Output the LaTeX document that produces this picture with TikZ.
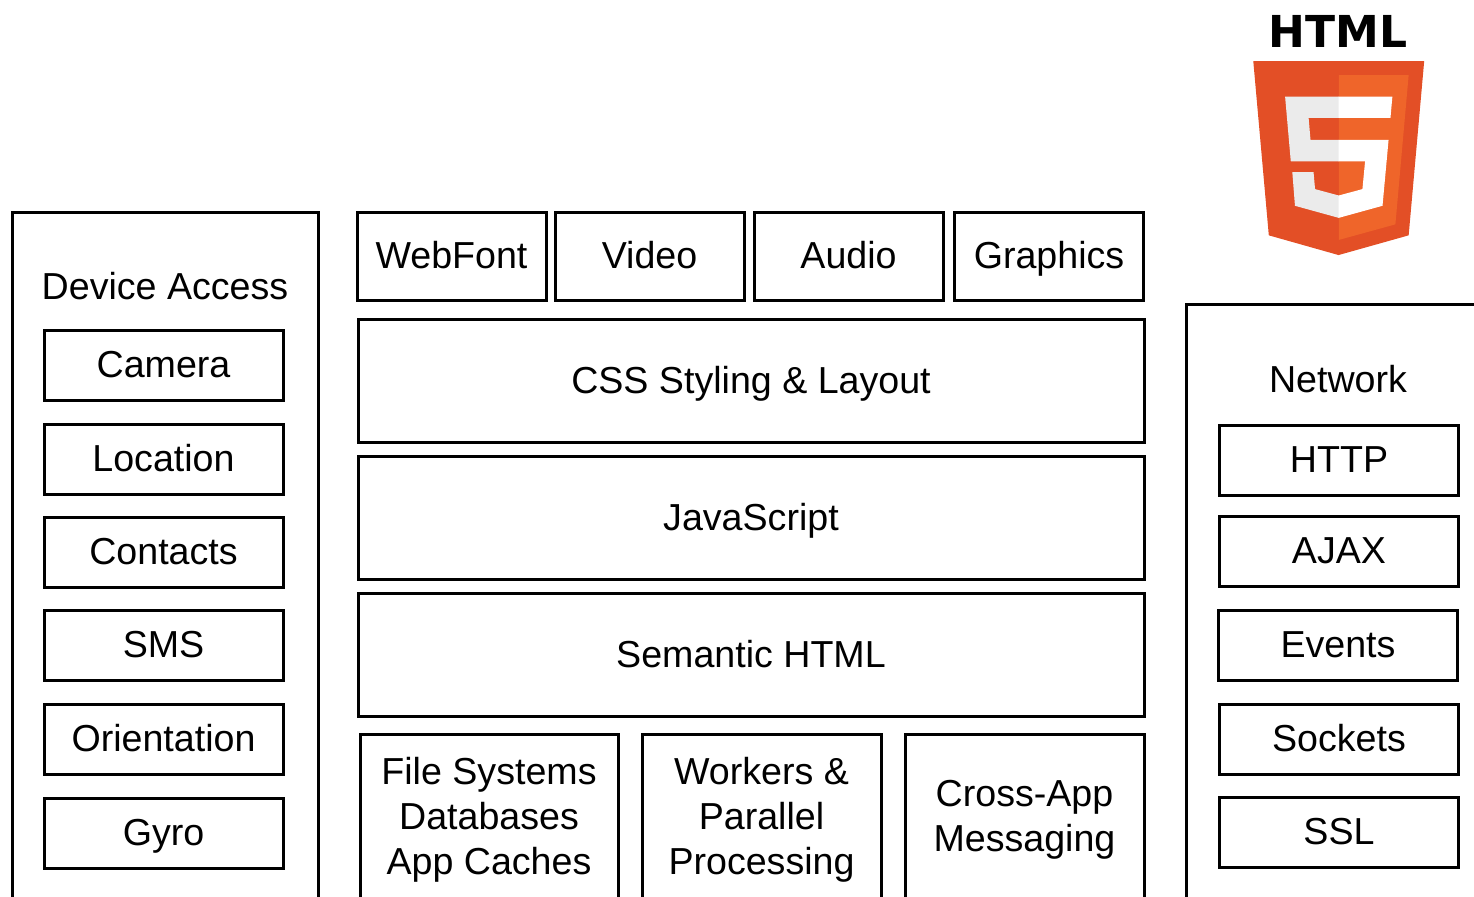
\documentclass[tikz,border=0pt]{standalone}
\usepackage{fontspec}
\setmainfont{Liberation Sans}
\newfontfamily\logofont{DejaVu Sans}
\definecolor{shieldred}{HTML}{E34F26}
\definecolor{shieldlight}{HTML}{EF652A}
\definecolor{fivegray}{HTML}{EBEBEB}

\begin{document}
\begin{tikzpicture}[
    x=0.5pt, y=-0.5pt,
    box/.style={rectangle, draw, line width=1.5pt, inner sep=0pt, align=center, font=\fontsize{18.8}{22.5}\selectfont},
    itembox/.style={box, minimum width=119.5pt, minimum height=35pt, text height=16.8pt, text depth=4pt},
    mediabox/.style={box, minimum width=94.5pt, minimum height=44pt, text height=16.8pt, text depth=4pt},
    layerbox/.style={box, minimum width=393pt, minimum height=61.5pt, text height=16.8pt, text depth=4pt},
    storebox/.style={box, minimum width=119.5pt, minimum height=86pt},
    groupbox/.style={rectangle, draw, line width=1.5pt, inner sep=0pt},
    title/.style={inner sep=0pt, font=\fontsize{18.8}{22.5}\selectfont, text height=16.8pt, text depth=4pt}
]
    \useasboundingbox (0,0) rectangle (1474,896);
    \clip (0,0) rectangle (1474,896);

    % Groups
    \node[groupbox, minimum width=153pt, minimum height=374pt] (device) at (165,586) {};
    \node[groupbox, minimum width=187pt, minimum height=328pt] (network) at (1373,632) {};
    \node[title] (devicetitle) at (165,287) {Device Access};
    \node[title] (networktitle) at (1338,380) {Network};

    % Device access
    \node[itembox] (camera) at (163.5,365) {Camera};
    \node[itembox] (location) at (163.5,459) {Location};
    \node[itembox] (contacts) at (163.5,552) {Contacts};
    \node[itembox] (sms) at (163.5,645) {SMS};
    \node[itembox] (orientation) at (163.5,739) {Orientation};
    \node[itembox] (gyro) at (163.5,833) {Gyro};

    % Network
    \node[itembox] (http) at (1339,460) {HTTP};
    \node[itembox] (ajax) at (1339,551) {AJAX};
    \node[itembox] (events) at (1338,645) {Events};
    \node[itembox] (sockets) at (1339,739) {Sockets};
    \node[itembox] (ssl) at (1339,832) {SSL};

    % Media
    \node[mediabox] (webfont) at (451.5,256) {WebFont};
    \node[mediabox] (video) at (649.5,256) {Video};
    \node[mediabox] (audio) at (848.5,256) {Audio};
    \node[mediabox] (graphics) at (1049,256) {Graphics};

    % Layers
    \node[layerbox] (css) at (751,380.5) {CSS Styling \& Layout};
    \node[layerbox] (js) at (751,518) {JavaScript};
    \node[layerbox] (semantic) at (751,655) {Semantic HTML};

    % Storage and processing
    \node[storebox, minimum width=129pt] (storage) at (489,820) {File Systems\\Databases\\App Caches};
    \node[storebox] (workers) at (761.5,820) {Workers \&\\Parallel\\Processing};
    \node[storebox] (messaging) at (1024.5,820) {Cross-App\\Messaging};

    % Logo
    \node[anchor=base, inner sep=0pt, font=\logofont\bfseries\fontsize{22}{26}\selectfont] (logotext) at (1338,47) {HTML};
    \begin{scope}[shift={(1241.9,61)}, scale=0.379]
        \fill[shieldred] (71,460) -- (30,0) -- (481,0) -- (440,460) -- (255,512) -- cycle;
        \fill[shieldlight] (256,472) -- (405,431) -- (440,37) -- (256,37) -- cycle;
        \fill[fivegray] (256,208) -- (181,208) -- (176,150) -- (256,150) -- (256,94) -- (114,94) -- (129,265) -- (256,265) -- cycle;
        \fill[fivegray] (256,355) -- (193,338) -- (189,293) -- (133,293) -- (140,382) -- (256,414) -- cycle;
        \fill[white] (255,208) -- (255,265) -- (325,265) -- (318,338) -- (255,355) -- (255,414) -- (371,382) -- (387,208) -- cycle;
        \fill[white] (255,94) -- (255,150) -- (392,150) -- (397,94) -- cycle;
    \end{scope}
\end{tikzpicture}
\end{document}
